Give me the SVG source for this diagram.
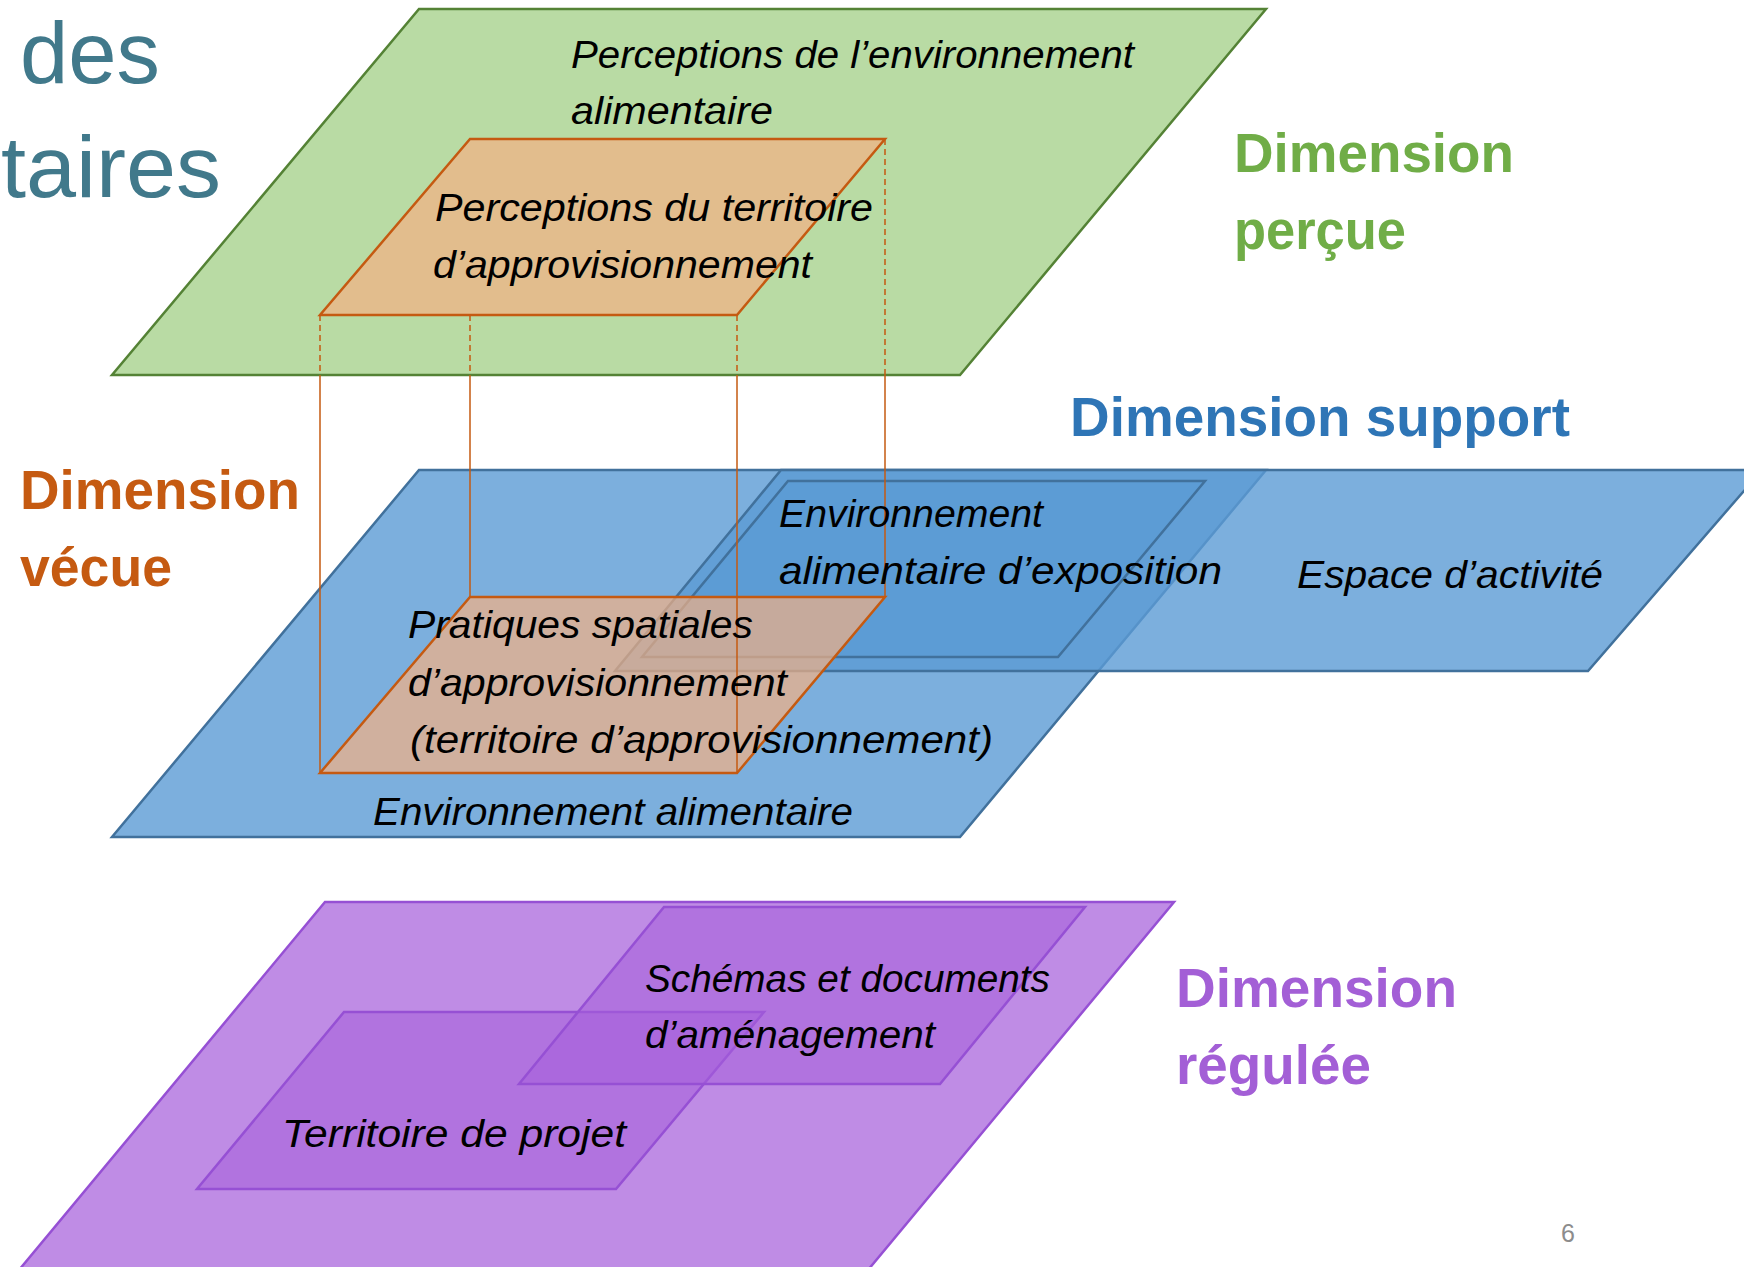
<svg xmlns="http://www.w3.org/2000/svg" width="1744" height="1267" viewBox="0 0 1744 1267">
<style>
.it{font-family:"Liberation Sans",Arial,sans-serif;font-style:italic;font-size:38px;fill:#000}
.dim{font-family:"Liberation Sans",Arial,sans-serif;font-weight:bold;font-size:56px}
.ttl{font-family:"Liberation Sans",Arial,sans-serif;font-size:88px;fill:#41798B}
.blue{fill:#5B9BD5;fill-opacity:0.8;stroke:#41719C;stroke-width:2.5}
.or{fill:#F4B183;fill-opacity:0.7;stroke:#C55A11;stroke-width:2.5}
.pu{fill:#A65FDB;stroke:#9650D4;stroke-width:2.5}
.cn{stroke:#C55A11;stroke-width:1.5;fill:none}
.dash{stroke-dasharray:6 4}
</style>
<rect width="1744" height="1267" fill="#FFFFFF"/>
<g id="title">
<text class="ttl" x="20" y="83" textLength="140" lengthAdjust="spacingAndGlyphs">des</text>
<text class="ttl" x="1" y="197" textLength="220" lengthAdjust="spacingAndGlyphs">taires</text>
</g>
<g id="perceptions-environnement">
<polygon points="419,9 1266,9 960,375 112,375" fill="#B9DBA4" stroke="#548235" stroke-width="2.5"/>
<text class="it" x="571" y="68" textLength="563" lengthAdjust="spacingAndGlyphs">Perceptions de l’environnement</text>
<text class="it" x="571" y="124" textLength="202" lengthAdjust="spacingAndGlyphs">alimentaire</text>
</g>
<g id="perceptions-territoire">
<polygon class="or" points="470,139 885,139 737,315 320,315"/>
<text class="it" x="435" y="221" textLength="438" lengthAdjust="spacingAndGlyphs">Perceptions du territoire</text>
<text class="it" x="433" y="278" textLength="379" lengthAdjust="spacingAndGlyphs">d’approvisionnement</text>
</g>
<g id="connectors-dashed">
<line class="cn dash" x1="320" y1="315" x2="320" y2="375"/>
<line class="cn dash" x1="470" y1="315" x2="470" y2="375"/>
<line class="cn dash" x1="737" y1="315" x2="737" y2="375"/>
<line class="cn dash" x1="885" y1="139" x2="885" y2="375"/>
</g>
<g id="dimension-percue">
<text class="dim" fill="#70AD47" x="1234" y="172" textLength="280" lengthAdjust="spacingAndGlyphs">Dimension</text>
<text class="dim" fill="#70AD47" x="1234" y="249" textLength="172" lengthAdjust="spacingAndGlyphs">perçue</text>
</g>
<g id="dimension-support">
<text class="dim" fill="#2E75B6" x="1070" y="436" textLength="500" lengthAdjust="spacingAndGlyphs">Dimension support</text>
</g>
<g id="dimension-vecue">
<text class="dim" fill="#C55A11" x="20" y="509" textLength="280" lengthAdjust="spacingAndGlyphs">Dimension</text>
<text class="dim" fill="#C55A11" x="20" y="586" textLength="152" lengthAdjust="spacingAndGlyphs">vécue</text>
</g>
<g id="environnement-alimentaire">
<polygon class="blue" points="419,470 1266,470 960,837 112,837"/>
</g>
<g id="espace-activite">
<polygon class="blue" points="781,470 1762,470 1588,671 615,671"/>
</g>
<g id="environnement-exposition">
<polygon class="blue" points="788,481 1205,481 1058,657 642,657" stroke-width="3"/>
</g>
<g id="pratiques-spatiales">
<polygon class="or" points="470,597 885,597 737,773 320,773"/>
</g>
<g id="connectors">
<line class="cn" x1="320" y1="375" x2="320" y2="773"/>
<line class="cn" x1="470" y1="375" x2="470" y2="597"/>
<line class="cn" x1="737" y1="375" x2="737" y2="773"/>
<line class="cn" x1="885" y1="375" x2="885" y2="597"/>
</g>
<g id="labels-vecue">
<text class="it" x="779" y="527" textLength="264" lengthAdjust="spacingAndGlyphs">Environnement</text>
<text class="it" x="779" y="584" textLength="443" lengthAdjust="spacingAndGlyphs">alimentaire d’exposition</text>
<text class="it" x="1297" y="588" textLength="306" lengthAdjust="spacingAndGlyphs">Espace d’activité</text>
<text class="it" x="408" y="638" textLength="345" lengthAdjust="spacingAndGlyphs">Pratiques spatiales</text>
<text class="it" x="408" y="696" textLength="379" lengthAdjust="spacingAndGlyphs">d’approvisionnement</text>
<text class="it" x="410" y="753" textLength="583" lengthAdjust="spacingAndGlyphs">(territoire d’approvisionnement)</text>
<text class="it" x="373" y="825" textLength="480" lengthAdjust="spacingAndGlyphs">Environnement alimentaire</text>
</g>
<g id="dimension-regulee-plan">
<polygon class="pu" fill-opacity="0.72" points="325,902 1174,902 868,1270 19,1270"/>
</g>
<g id="territoire-projet">
<polygon class="pu" fill-opacity="0.55" points="344,1012 764,1012 616,1189 197,1189"/>
<text class="it" x="282" y="1147" textLength="344" lengthAdjust="spacingAndGlyphs">Territoire de projet</text>
</g>
<g id="schemas-documents">
<polygon class="pu" fill-opacity="0.55" points="664,907 1085,907 940,1084 519,1084"/>
<text class="it" x="645" y="992" textLength="405" lengthAdjust="spacingAndGlyphs">Schémas et documents</text>
<text class="it" x="645" y="1048" textLength="290" lengthAdjust="spacingAndGlyphs">d’aménagement</text>
</g>
<g id="dimension-regulee">
<text class="dim" fill="#A35FD6" x="1176" y="1007" textLength="281" lengthAdjust="spacingAndGlyphs">Dimension</text>
<text class="dim" fill="#A35FD6" x="1176" y="1084" textLength="195" lengthAdjust="spacingAndGlyphs">régulée</text>
</g>
<g id="page-number">
<text x="1561" y="1242" font-family="Liberation Sans, Arial, sans-serif" font-size="25" fill="#8C8C8C">6</text>
</g>
</svg>
